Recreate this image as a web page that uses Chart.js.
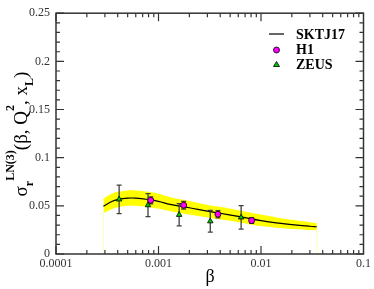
<!DOCTYPE html>
<html>
<head>
<meta charset="utf-8">
<script src="https://cdn.jsdelivr.net/npm/chart.js@4.4.1/dist/chart.umd.min.js"></script>
<style>
  html, body { margin: 0; padding: 0; background: #fff; }
  #wrap { width: 374px; height: 289px; }
</style>
</head>
<body>
<div id="wrap"><canvas id="c" width="374" height="289"></canvas></div>
<script>
// ================= DATA =================
const bandX     = [2.9e-4, 3.5e-4, 4e-4, 5e-4, 6e-4, 8e-4, 1e-3, 1.3e-3, 2e-3, 3e-3, 4e-3, 6e-3, 1e-2, 1.5e-2, 2e-2, 3e-2, 3.5e-2];
const curveY    = [0.0495, 0.0545, 0.0565, 0.058, 0.058, 0.0565, 0.0547, 0.0515, 0.048, 0.0445, 0.0423, 0.039, 0.0347, 0.0320, 0.0305, 0.0288, 0.0283];
const bandUpper = [0.0575, 0.0625, 0.0645, 0.066, 0.066, 0.0645, 0.0625, 0.059, 0.055, 0.051, 0.049, 0.0455, 0.041, 0.0375, 0.0355, 0.0330, 0.0322];
const bandLower = [0.0425, 0.0465, 0.0485, 0.050, 0.050, 0.0485, 0.047, 0.0445, 0.041, 0.038, 0.036, 0.0330, 0.029, 0.0270, 0.0260, 0.0248, 0.0245];

const h1X   = [8.4e-4, 1.76e-3, 3.8e-3, 8.1e-3];
const h1Y   = [0.0557, 0.0507, 0.0413, 0.0347];
const h1Err = [0.0037, 0.004, 0.0037, 0.003];

const zeusX   = [4.13e-4, 7.9e-4, 1.59e-3, 3.2e-3, 6.4e-3];
const zeusY   = [0.0567, 0.0507, 0.0407, 0.034, 0.038];
const zeusErr = [0.0148, 0.012, 0.0115, 0.0112, 0.0122];

const xTickVals   = [1e-4, 1e-3, 1e-2, 1e-1];
const xTickLabels = ["0.0001", "0.001", "0.01", "0.1"];
const yTickLabels = ["0", "0.05", "0.1", "0.15", "0.2", "0.25"];

const legendLabels = ["SKTJ17", "H1", "ZEUS"];

const SERIF = "'Liberation Serif', 'Times New Roman', serif";
const pts = (xs, ys) => xs.map((x, i) => ({ x: x, y: ys[i] }));

// ================= PLUGIN =================
function drawErrorBars(chart) {
  const ctx = chart.ctx, xs = chart.scales.x, ys = chart.scales.y;
  ctx.save();
  ctx.strokeStyle = "#404040";
  ctx.lineWidth = 1.3;
  const bar = (x, y, e) => {
    const px = xs.getPixelForValue(x);
    const top = ys.getPixelForValue(y + e), bot = ys.getPixelForValue(y - e);
    ctx.beginPath();
    ctx.moveTo(px, top); ctx.lineTo(px, bot);
    ctx.moveTo(px - 2.5, top); ctx.lineTo(px + 2.5, top);
    ctx.moveTo(px - 2.5, bot); ctx.lineTo(px + 2.5, bot);
    ctx.stroke();
  };
  zeusX.forEach((x, i) => bar(x, zeusY[i], zeusErr[i]));
  h1X.forEach((x, i) => bar(x, h1Y[i], h1Err[i]));
  ctx.restore();
}

function drawFrameAndTicks(chart) {
  const ctx = chart.ctx, a = chart.chartArea, xs = chart.scales.x, ys = chart.scales.y;
  ctx.save();
  ctx.strokeStyle = "#333";
  ctx.lineWidth = 1.5;
  ctx.strokeRect(a.left, a.top, a.right - a.left, a.bottom - a.top);
  ctx.lineWidth = 1.2;
  ctx.beginPath();
  // x ticks (log)
  for (let d = -4; d < -1; d++) {
    for (let m = 1; m <= 9; m++) {
      const px = xs.getPixelForValue(m * Math.pow(10, d));
      const len = m === 1 ? 8 : 4;
      ctx.moveTo(px, a.bottom); ctx.lineTo(px, a.bottom - len);
      ctx.moveTo(px, a.top); ctx.lineTo(px, a.top + len);
    }
  }
  // y ticks
  for (let k = 0; k <= 25; k++) {
    const py = ys.getPixelForValue(k * 0.01);
    const len = k % 5 === 0 ? 8 : 4;
    ctx.moveTo(a.left, py); ctx.lineTo(a.left + len, py);
    ctx.moveTo(a.right, py); ctx.lineTo(a.right - len, py);
  }
  ctx.stroke();
  ctx.restore();
}

function drawLegend(chart) {
  const ctx = chart.ctx;
  ctx.save();
  ctx.font = "bold 14px " + SERIF;
  ctx.fillStyle = "#000";
  ctx.textBaseline = "middle";
  // line sample
  ctx.strokeStyle = "#000";
  ctx.lineWidth = 1.2;
  ctx.beginPath(); ctx.moveTo(269, 34); ctx.lineTo(284, 34); ctx.stroke();
  ctx.fillText(legendLabels[0], 296, 35);
  // H1 marker
  ctx.beginPath();
  ctx.arc(276.5, 50, 3, 0, Math.PI * 2);
  ctx.fillStyle = "#ff00ff"; ctx.fill();
  ctx.lineWidth = 0.8; ctx.strokeStyle = "#000"; ctx.stroke();
  ctx.fillStyle = "#000";
  ctx.fillText(legendLabels[1], 296, 50);
  // ZEUS marker
  ctx.beginPath();
  ctx.moveTo(276.5, 61.5); ctx.lineTo(279.5, 66.5); ctx.lineTo(273.5, 66.5); ctx.closePath();
  ctx.fillStyle = "#00c800"; ctx.fill();
  ctx.stroke();
  ctx.fillStyle = "#000";
  ctx.fillText(legendLabels[2], 296, 65);
  ctx.restore();
}

function drawTitles(chart) {
  const ctx = chart.ctx;
  ctx.save();
  ctx.fillStyle = "#000";
  ctx.textBaseline = "alphabetic";
  // x title
  ctx.font = "18px " + SERIF;
  ctx.textAlign = "center";
  ctx.fillText("\u03b2", 210, 282);
  // y title, rotated
  const main = "19px " + SERIF, small = "bold 12px " + SERIF;
  const runs = [
    ["\u03c3", main, 0],
    ["r", small, 6],
    ["LN(3)", small, -13],
    ["(\u03b2, Q", main, 0],
    ["2", small, -13],
    [", x", main, 0],
    ["L", small, 6],
    [")", main, 0]
  ];
  let total = 0;
  runs.forEach(r => { ctx.font = r[1]; total += ctx.measureText(r[0]).width; });
  ctx.translate(27, 134);
  ctx.rotate(-Math.PI / 2);
  ctx.textAlign = "left";
  let x = -total / 2;
  runs.forEach(r => {
    ctx.font = r[1];
    ctx.fillText(r[0], x, r[2]);
    x += ctx.measureText(r[0]).width;
  });
  ctx.restore();
}

const customPlugin = {
  id: "custom",
  afterDatasetDraw(chart, args) {
    if (args.index === 2) drawErrorBars(chart);
  },
  afterDraw(chart) {
    drawFrameAndTicks(chart);
    drawLegend(chart);
    drawTitles(chart);
  }
};

// ================= CHART =================
const ctx = document.getElementById("c").getContext("2d");
new Chart(ctx, {
  type: "scatter",
  data: {
    datasets: [
      { label: "ZEUS", data: pts(zeusX, zeusY), pointStyle: "triangle", pointRadius: 3.2,
        backgroundColor: "#00c800", borderColor: "#000", borderWidth: 0.8, showLine: false },
      { label: "H1", data: pts(h1X, h1Y), pointStyle: "circle", pointRadius: 3,
        backgroundColor: "#ff00ff", borderColor: "#000", borderWidth: 0.8, showLine: false },
      { label: "SKTJ17", data: pts(bandX, curveY), showLine: true, pointRadius: 0,
        borderColor: "#000", borderWidth: 1.2, tension: 0.4, fill: false },
      { label: "upper", data: pts(bandX, bandUpper), showLine: true, pointRadius: 0,
        borderWidth: 0, borderColor: "rgba(0,0,0,0)", backgroundColor: "#ffff00", tension: 0.4, fill: "+1" },
      { label: "lower", data: pts(bandX, bandLower), showLine: true, pointRadius: 0,
        borderWidth: 0, borderColor: "rgba(0,0,0,0)", tension: 0.4, fill: false },
      { label: "edgeL", data: pts([bandX[0], bandX[0]], [0, bandLower[0]]), showLine: true, pointRadius: 0,
        borderColor: "rgba(255,255,120,0.55)", borderWidth: 1 },
      { label: "edgeR", data: pts([bandX[bandX.length - 1], bandX[bandX.length - 1]], [0, bandLower[bandLower.length - 1]]),
        showLine: true, pointRadius: 0, borderColor: "rgba(255,255,120,0.55)", borderWidth: 1 }
    ]
  },
  options: {
    responsive: false,
    animation: false,
    layout: { padding: { top: 4, right: 10, left: 0, bottom: 0 } },
    plugins: { legend: { display: false }, tooltip: { enabled: false } },
    scales: {
      x: {
        type: "logarithmic",
        min: 1e-4, max: 0.1,
        grid: { display: false, drawTicks: false },
        border: { display: false },
        afterBuildTicks: s => { s.ticks = xTickVals.map(v => ({ value: v })); },
        afterFit: s => { s.height = 35; },
        ticks: {
          autoSkip: false, maxRotation: 0, padding: 3,
          color: "#333", font: { family: SERIF, size: 12 },
          callback: (v, i) => xTickLabels[i]
        }
      },
      y: {
        min: 0, max: 0.25,
        grid: { display: false, drawTicks: false },
        border: { display: false },
        afterFit: s => { s.width = 56; },
        ticks: {
          stepSize: 0.05, padding: 6,
          color: "#333", font: { family: SERIF, size: 12 },
          callback: (v, i) => yTickLabels[i]
        }
      }
    }
  },
  plugins: [customPlugin]
});
</script>
</body>
</html>
